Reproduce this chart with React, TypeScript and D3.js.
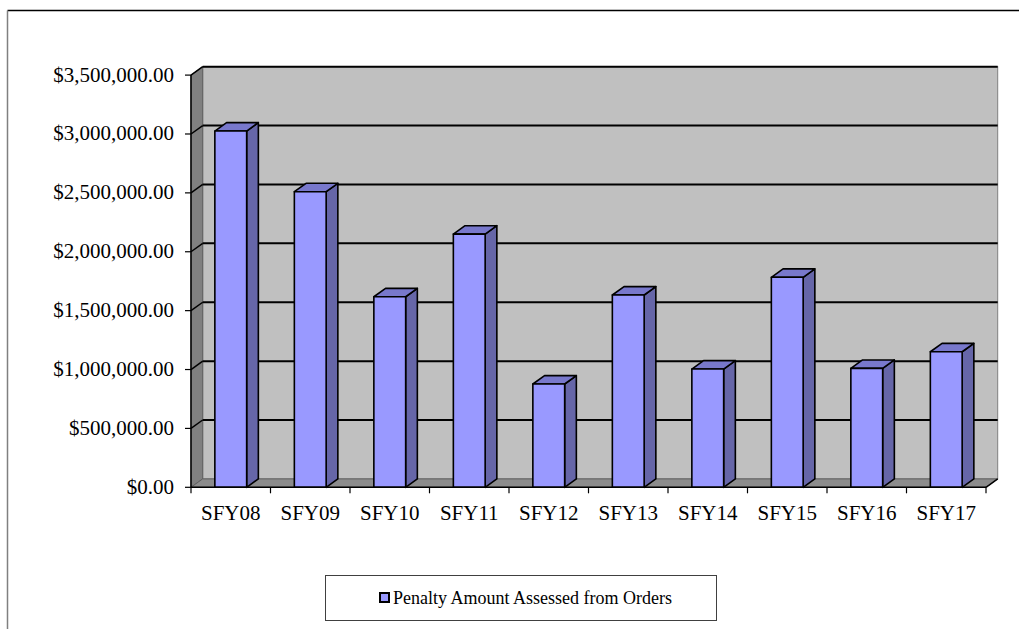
import React from "react";
import * as d3 from "d3";

const categories = ["SFY08", "SFY09", "SFY10", "SFY11", "SFY12", "SFY13", "SFY14", "SFY15", "SFY16", "SFY17"];
const values = [3025000, 2510000, 1618000, 2150000, 877000, 1633000, 1004000, 1783000, 1010000, 1151000];
const yTicks = [0, 500000, 1000000, 1500000, 2000000, 2500000, 3000000, 3500000];
const seriesName = "Penalty Amount Assessed from Orders";

const W = 1019;
const H = 629;
const FONT = "'Liberation Serif', 'Times New Roman', serif";

export default function App() {
  const x0 = 191;
  const x1 = 986;
  const yBottom = 487.3;
  const yTop = 75.1;
  const dx = 11.7;
  const dy = 8.4;

  const y = d3.scaleLinear().domain([0, 3500000]).range([yBottom, yTop]);
  const x = d3.scaleBand<string>().domain(categories).range([x0, x1]).paddingInner(0.6).paddingOuter(0.3);
  const step = x.step();
  const bw = x.bandwidth();
  const bounds = categories.map((c) => (x(c) as number) - step * 0.3);
  bounds.push(x1);
  const fmt = d3.format("$,.2f");

  const pts = (arr: number[][]) => arr.map((p) => p.join(",")).join(" ");

  return (
    <svg width={W} height={H} style={{ position: "absolute", left: 0, top: 0 }} xmlns="http://www.w3.org/2000/svg">
      <rect x={0} y={0} width={W} height={H} fill="#ffffff" />
      {/* chart area border */}
      <line x1={7.5} y1={10.5} x2={W + 10} y2={10.5} stroke="#000" strokeWidth={1.5} />
      <line x1={7.5} y1={10.5} x2={7.5} y2={H + 10} stroke="#808080" strokeWidth={1.5} />

      {/* back wall */}
      <rect x={x0 + dx} y={yTop - dy} width={x1 - x0} height={yBottom - yTop} fill="#C0C0C0" stroke="#808080" strokeWidth={1} />
      {/* left wall */}
      <polygon
        points={pts([[x0, yTop], [x0 + dx, yTop - dy], [x0 + dx, yBottom - dy], [x0, yBottom]])}
        fill="#808080"
        stroke="#606060"
        strokeWidth={1}
      />
      {/* floor */}
      <polygon
        points={pts([[x0, yBottom], [x0 + dx, yBottom - dy], [x1 + dx, yBottom - dy], [x1, yBottom]])}
        fill="#8C8C8C"
        stroke="#606060"
        strokeWidth={1}
      />

      {/* gridlines */}
      {yTicks.map((t) =>
        t === 0 ? null : (
          <g key={"g" + t}>
            <line x1={x0 + dx} y1={y(t) - dy} x2={x1 + dx} y2={y(t) - dy} stroke="#000" strokeWidth={2} />
            <line x1={x0} y1={y(t)} x2={x0 + dx} y2={y(t) - dy} stroke="#000" strokeWidth={1.5} />
          </g>
        )
      )}

      {/* floor right edge */}
      <line x1={x1} y1={yBottom} x2={x1 + dx} y2={yBottom - dy} stroke="#000" strokeWidth={1.5} />

      {/* bars */}
      {categories.map((c, i) => {
        const bx = x(c) as number;
        const by = y(values[i]);
        const front = [[bx, by], [bx + bw, by], [bx + bw, yBottom], [bx, yBottom]];
        const side = [[bx + bw, by], [bx + bw + dx, by - dy], [bx + bw + dx, yBottom - dy], [bx + bw, yBottom]];
        const top = [[bx, by], [bx + dx, by - dy], [bx + bw + dx, by - dy], [bx + bw, by]];
        return (
          <g key={c} stroke="#000" strokeWidth={1.6} strokeLinejoin="round">
            <polygon points={pts(side)} fill="#6666A8" />
            <polygon points={pts(top)} fill="#7878CC" />
            <polygon points={pts(front)} fill="#9999FF" />
          </g>
        );
      })}

      {/* value axis */}
      <line x1={x0} y1={yTop} x2={x0} y2={yBottom} stroke="#000" strokeWidth={1.5} />
      {yTicks.map((t) => (
        <g key={"t" + t}>
          <line x1={x0 - 6} y1={y(t)} x2={x0} y2={y(t)} stroke="#000" strokeWidth={1.2} />
          <text x={174} y={y(t) + 6.5} textAnchor="end" fontFamily={FONT} fontSize={21} fill="#000">
            {fmt(t)}
          </text>
        </g>
      ))}

      {/* category axis */}
      <line x1={x0} y1={yBottom} x2={x1} y2={yBottom} stroke="#000" strokeWidth={1.5} />
      {bounds.map((b, i) => (
        <line key={"ct" + i} x1={b} y1={yBottom} x2={b} y2={yBottom + 6} stroke="#000" strokeWidth={1.2} />
      ))}
      {categories.map((c) => (
        <text key={"cl" + c} x={(x(c) as number) + bw / 2} y={520} textAnchor="middle" fontFamily={FONT} fontSize={21} fill="#000">
          {c}
        </text>
      ))}

      {/* legend */}
      <rect x={325.5} y={575.5} width={391} height={45} fill="#fff" stroke="#404040" strokeWidth={1} />
      <rect x={380} y={593} width={9} height={9} fill="#9999FF" stroke="#000" strokeWidth={2} />
      <text x={393} y={603.5} fontFamily={FONT} fontSize={18} fill="#000">
        {seriesName}
      </text>
    </svg>
  );
}
